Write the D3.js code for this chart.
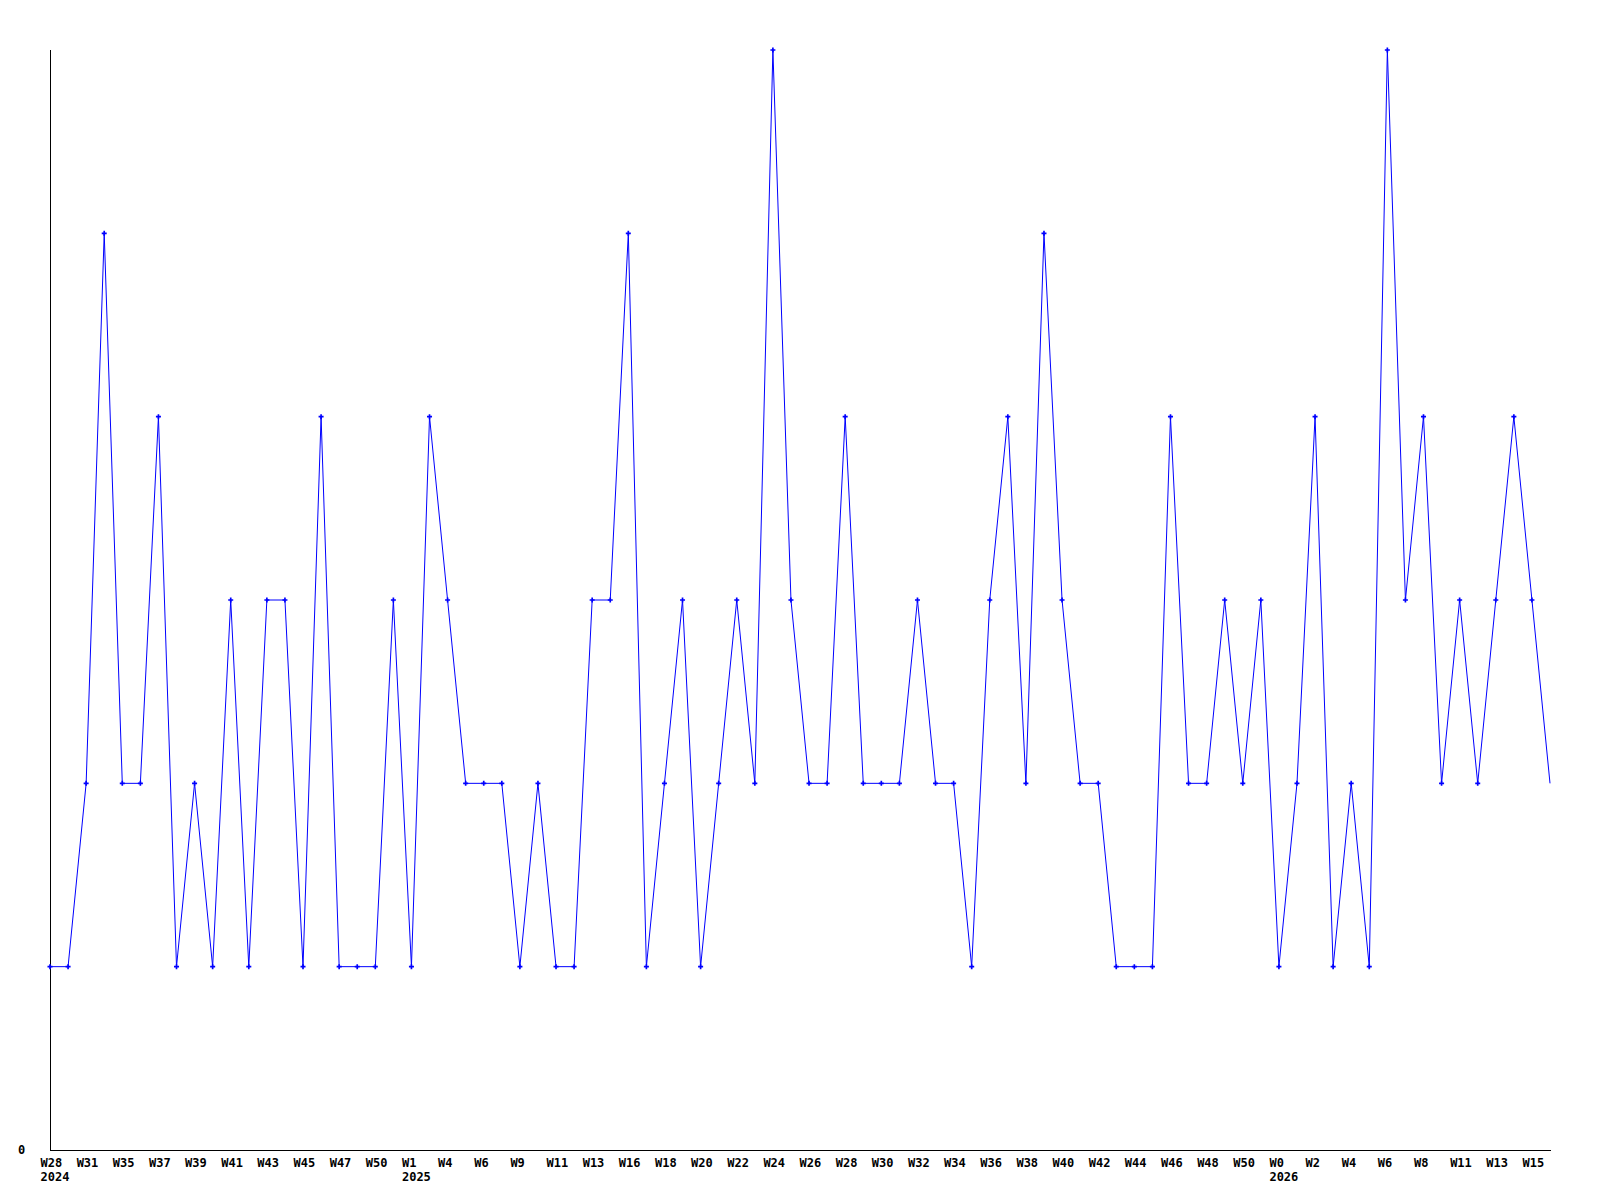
<!DOCTYPE html>
<html>
<head>
<meta charset="utf-8">
<script src="https://cdn.jsdelivr.net/npm/d3@7"></script>
<style>
  body { margin: 0; background: #fff; }
  svg { display: block; }
  .tick text { font-family: "DejaVu Sans Mono", monospace; font-weight: bold; font-size: 12px; fill: #000; }
</style>
</head>
<body>
<div id="chart"></div>
<script>
// weekly counts, W28 2024 .. W16 2026
const values = [1, 1, 2, 5, 2, 2, 4, 1, 2, 1, 3, 1, 3, 3, 1, 4, 1, 1, 1, 3,
  1, 4, 3, 2, 2, 2, 1, 2, 1, 1, 3, 3, 5, 1, 2, 3, 1, 2, 3, 2,
  6, 3, 2, 2, 4, 2, 2, 2, 3, 2, 2, 1, 3, 4, 2, 5, 3, 2, 2, 1,
  1, 1, 4, 2, 2, 3, 2, 3, 1, 2, 4, 1, 2, 1, 6, 3, 4, 2, 3, 2,
  3, 4, 3, 2];

// one label every second point
const weekLabels = ["W28", "W31", "W35", "W37", "W39", "W41", "W43", "W45", "W47", "W50",
  "W1", "W4", "W6", "W9", "W11", "W13", "W16", "W18", "W20", "W22", "W24",
  "W26", "W28", "W30", "W32", "W34", "W36", "W38", "W40", "W42", "W44", "W46",
  "W48", "W50", "W0", "W2", "W4", "W6", "W8", "W11", "W13", "W15"];
const yearLabels = { 0: "2024", 10: "2025", 34: "2026" };

const yTicks = [0];

const width = 1600, height = 1200;
const margin = { top: 50, right: 50, bottom: 50, left: 50 };

const svg = d3.select("#chart").append("svg")
  .attr("width", width)
  .attr("height", height);

const idx = d3.range(values.length);
const x = d3.scalePoint(idx, [margin.left, width - margin.right]);
const y = d3.scaleLinear([0, 6], [height - margin.bottom, margin.top]);

// AXES
const xTickVals = idx.filter(i => i % 2 === 0);
const gx = svg.append("g")
  .attr("transform", `translate(0,${height - margin.bottom})`)
  .call(d3.axisBottom(x).tickValues(xTickVals).tickSize(0).tickPadding(0)
    .tickFormat(i => weekLabels[i / 2]));
gx.select(".domain").attr("stroke", "#000").attr("d", `M${margin.left},0.5H${width - margin.right + 1}`);
gx.selectAll(".tick text")
  .attr("text-anchor", "start")
  .attr("x", -10)
  .attr("y", 17)
  .attr("dy", null)
  .each(function (i) {
    const yl = yearLabels[i / 2];
    if (yl) {
      d3.select(this).append("tspan")
        .attr("x", -10)
        .attr("y", 31)
        .text(yl);
    }
  });

const gy = svg.append("g")
  .attr("transform", `translate(${margin.left},0)`)
  .call(d3.axisLeft(y).tickValues(yTicks).tickSize(0).tickFormat(d3.format("d")));
gy.select(".domain").attr("stroke", "#000").attr("d", `M0.5,${height - margin.bottom}V${margin.top}`);
gy.selectAll(".tick text").attr("text-anchor", "start").attr("x", -32);

// LINE
const line = d3.line()
  .x((d, i) => x(i))
  .y(d => y(d));

svg.append("path")
  .datum(values)
  .attr("fill", "none")
  .attr("stroke", "#0000ff")
  .attr("stroke-width", 1)
  .attr("d", line);

// MARKERS (the last point has none)
svg.selectAll("path.marker")
  .data(values.slice(0, -1))
  .enter().append("path")
  .attr("class", "marker")
  .attr("transform", (d, i) => `translate(${x(i)},${y(d)})`)
  .attr("d", d3.symbol(d3.symbolCross, 14))
  .attr("fill", "#0000ff");
</script>
</body>
</html>
